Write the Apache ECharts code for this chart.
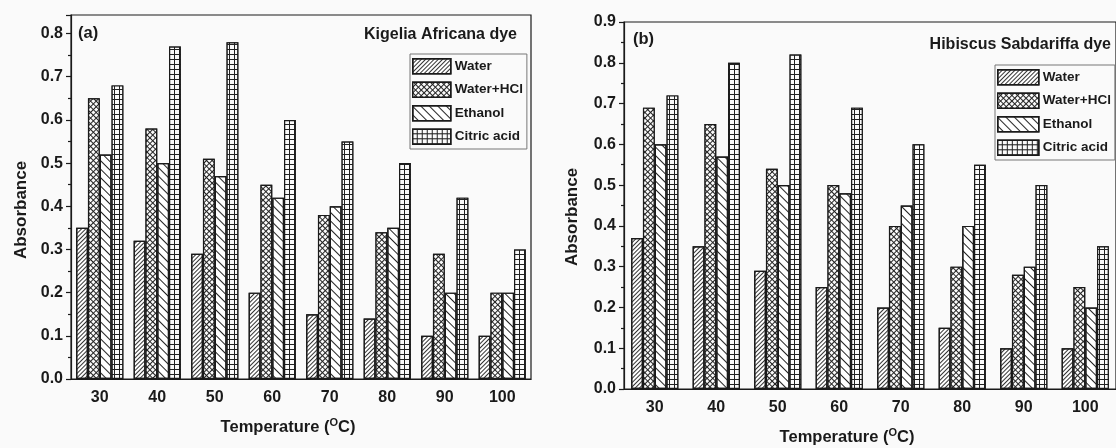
<!DOCTYPE html>
<html>
<head>
<meta charset="utf-8">
<script src="https://cdn.jsdelivr.net/npm/echarts@6/dist/echarts.min.js"></script>
<style>
html,body{margin:0;padding:0;background:#fafafa;}
#c{width:1116px;height:448px;}
</style>
</head>
<body>
<div id="c"></div>
<script>
const categories = ['30','40','50','60','70','80','90','100'];
const seriesNames = ['Water','Water+HCl','Ethanol','Citric acid'];
// Panel (a) Kigelia Africana dye
const aWater  = [0.35,0.32,0.29,0.20,0.15,0.14,0.10,0.10];
const aHCl    = [0.65,0.58,0.51,0.45,0.38,0.34,0.29,0.20];
const aEthanol= [0.52,0.50,0.47,0.42,0.40,0.35,0.20,0.20];
const aCitric = [0.68,0.77,0.78,0.60,0.55,0.50,0.42,0.30];
// Panel (b) Hibiscus Sabdariffa dye
const bWater  = [0.37,0.35,0.29,0.25,0.20,0.15,0.10,0.10];
const bHCl    = [0.69,0.65,0.54,0.50,0.40,0.30,0.28,0.25];
const bEthanol= [0.60,0.57,0.50,0.48,0.45,0.40,0.30,0.20];
const bCitric = [0.72,0.80,0.82,0.69,0.60,0.55,0.50,0.35];
const titleA = 'Kigelia Africana dye';
const titleB = 'Hibiscus Sabdariffa dye';

const FONT = '"Liberation Sans", Arial, sans-serif';
const INK = '#1a1a1a';

const styles = [
  {color:'#ffffff', decal:{symbol:'rect',symbolSize:1,dashArrayX:[1,0],dashArrayY:[1,2],rotation:-Math.PI/4,color:'#333'}},
  {color:'#222222', decal:{symbol:'rect',symbolSize:1,dashArrayX:[3,1],dashArrayY:[3,1],rotation:Math.PI/4,color:'#fafafa'}},
  {color:'#ffffff', decal:{symbol:'rect',symbolSize:1,dashArrayX:[1,0],dashArrayY:[1,5],rotation:Math.PI/4,color:'#222'}},
  {color:'#222222', decal:{symbol:'rect',symbolSize:1,dashArrayX:[4,1],dashArrayY:[4,1],rotation:0,color:'#fafafa'}}
];

function mkSeries(data, xi, yi){
  return data.map((d,i)=>({
    name: seriesNames[i], type:'bar', xAxisIndex:xi, yAxisIndex:yi,
    data:d, barWidth:11.8, barGap:'0%',
    itemStyle:{color:styles[i].color, decal:styles[i].decal, borderColor:INK, borderWidth:1.2},
    emphasis:{disabled:true}, animation:false
  }));
}

function mkX(grid){
  return [
    {type:'category', gridIndex:grid, data:categories,
     axisLine:{lineStyle:{color:INK,width:1.2}},
     axisTick:{alignWithLabel:true,length:6,lineStyle:{color:INK,width:1.2}},
     axisLabel:{color:INK,fontFamily:FONT,fontWeight:'bold',fontSize:16,margin:11}},
    {type:'category', gridIndex:grid, data:categories,
     axisLine:{show:false}, axisLabel:{show:false},
     axisTick:{length:3,lineStyle:{color:INK,width:1.2}}}
  ];
}
function mkY(grid,max){
  return {type:'value', gridIndex:grid, min:0, max:max, interval:0.1,
    axisLine:{show:true,lineStyle:{color:INK,width:1.2}},
    axisTick:{show:true,length:5,lineStyle:{color:INK,width:1.2}},
    minorTick:{show:true,splitNumber:2,length:3,lineStyle:{color:INK,width:1.2}},
    splitLine:{show:false},
    axisLabel:{color:INK,fontFamily:FONT,fontWeight:'bold',fontSize:16,margin:8,
      showMaxLabel: max===0.9,
      formatter:v=>(Math.abs(v*10-Math.round(v*10))<1e-6)?v.toFixed(1):''}};
}

const legendBase = {orient:'vertical', icon:'rect', itemWidth:38, itemHeight:15, itemGap:7,
  borderColor:'#777', borderWidth:1, backgroundColor:'#fafafa', padding:[4,4,4,2],
  textStyle:{color:INK,fontFamily:FONT,fontWeight:'bold',fontSize:13.5,padding:[0,0,0,-1]},
  itemStyle:{borderWidth:1.5},
  data:seriesNames, selectedMode:false};

function tempName(x,y){
  return {type:'text', x:x, y:y, style:{
    text:'{t|Temperature (}{s|O}{t|C)}', textAlign:'center', textVerticalAlign:'middle',
    rich:{t:{fontFamily:FONT,fontWeight:'bold',fontSize:16.5,fill:INK},
          s:{fontFamily:FONT,fontWeight:'bold',fontSize:11,fill:INK,padding:[0,0,9,0]}}}};
}
function txt(x,y,s,size,align,rot){
  return {type:'text', x:x, y:y, rotation:rot||0, style:{text:s, fill:INK, fontFamily:FONT, fontWeight:'bold',
    fontSize:size, textAlign:align||'left', textVerticalAlign:'middle'}};
}

const chart = echarts.init(document.getElementById('c'), null, {renderer:'canvas'});
chart.setOption({
  backgroundColor:'#fafafa',
  animation:false,
  grid:[
    {left:71, top:15, width:460, height:364, show:true, borderColor:INK, borderWidth:1.2, backgroundColor:'transparent'},
    {left:624, top:22, width:499, height:367, show:true, borderColor:INK, borderWidth:1.2, backgroundColor:'transparent'}
  ],
  xAxis:[...mkX(0), ...mkX(1)],
  yAxis:[mkY(0,0.843), mkY(1,0.9)],
  legend:[
    Object.assign({}, legendBase, {left:410, top:54}),
    Object.assign({}, legendBase, {left:995, top:65, itemWidth:41})
  ],
  series:[...mkSeries([aWater,aHCl,aEthanol,aCitric],0,0), ...mkSeries([bWater,bHCl,bEthanol,bCitric],2,1)],
  graphic:[
    txt(78,33,'(a)',16.5),
    txt(517,35,titleA,16,'right'),
    txt(633,39,'(b)',16.5),
    txt(1111,45,titleB,16,'right'),
    txt(21,210,'Absorbance',17,'center',Math.PI/2),
    txt(572,217,'Absorbance',17,'center',Math.PI/2),
    tempName(288,427),
    tempName(847,437)
  ]
});
</script>
</body>
</html>
